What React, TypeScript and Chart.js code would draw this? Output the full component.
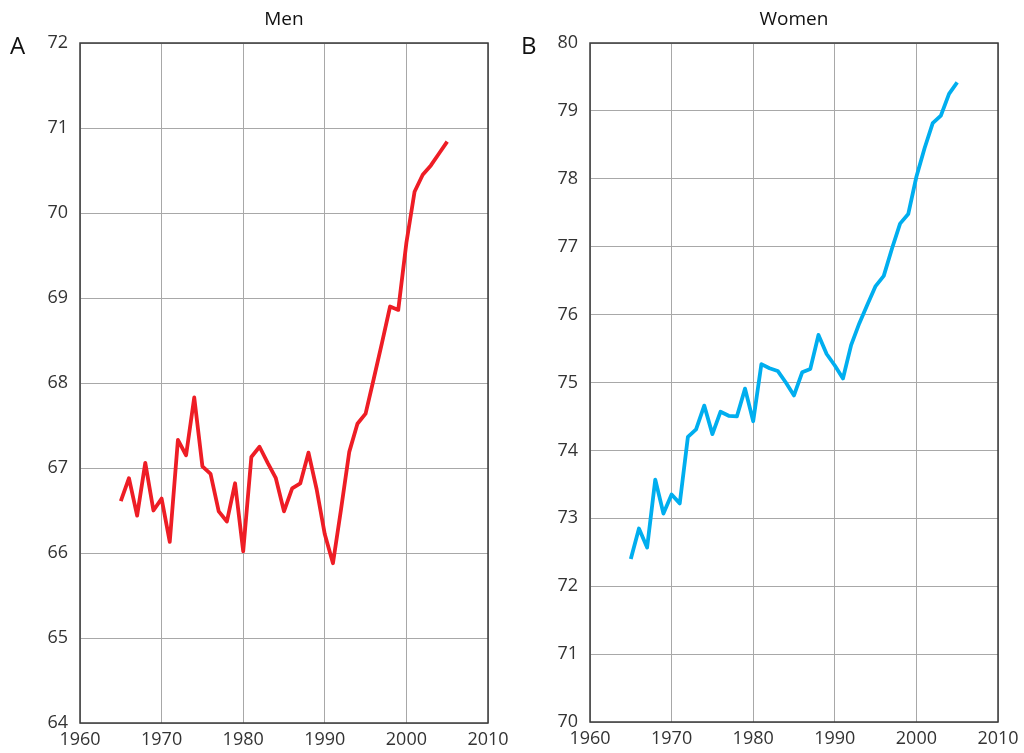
import React, { useEffect, useRef } from "react";
import { Chart, registerables } from "chart.js";

Chart.register(...registerables);

const years: number[] = [
  1965, 1966, 1967, 1968, 1969, 1970, 1971, 1972, 1973, 1974, 1975, 1976, 1977, 1978,
  1979, 1980, 1981, 1982, 1983, 1984, 1985, 1986, 1987, 1988, 1989, 1990, 1991, 1992,
  1993, 1994, 1995, 1996, 1997, 1998, 1999, 2000, 2001, 2002, 2003, 2004, 2005,
];

const menValues: number[] = [
  66.61, 66.88, 66.44, 67.06, 66.5, 66.64, 66.13, 67.33, 67.15, 67.83, 67.02, 66.93, 66.49, 66.37,
  66.82, 66.02, 67.13, 67.25, 67.06, 66.88, 66.49, 66.76, 66.82, 67.18, 66.75, 66.22, 65.88, 66.52,
  67.19, 67.52, 67.64, 68.05, 68.47, 68.9, 68.86, 69.65, 70.25, 70.45, 70.56, 70.7, 70.84,
];

const womenValues: number[] = [
  72.4, 72.85, 72.57, 73.57, 73.07, 73.35, 73.22, 74.2, 74.31, 74.66, 74.24, 74.57, 74.51, 74.5,
  74.91, 74.43, 75.27, 75.21, 75.17, 75.0, 74.81, 75.15, 75.2, 75.7, 75.42, 75.25, 75.06, 75.55,
  75.87, 76.15, 76.42, 76.57, 76.97, 77.34, 77.48, 78.03, 78.45, 78.82, 78.93, 79.25, 79.42,
];

const xTicks: number[] = [1960, 1970, 1980, 1990, 2000, 2010];
const menYRange: number[] = [64, 72];
const womenYRange: number[] = [70, 80];

const FONT = "'Open Sans', 'Noto Sans', sans-serif";

const frame = {
  id: "frame",
  afterDraw(chart: any) {
    const { ctx, chartArea } = chart;
    ctx.save();
    ctx.strokeStyle = "#3a3a3a";
    ctx.lineWidth = 1.5;
    ctx.strokeRect(chartArea.left, chartArea.top, chartArea.right - chartArea.left, chartArea.bottom - chartArea.top);
    ctx.restore();
  },
};

function Panel(props: {
  values: number[];
  yRange: number[];
  color: string;
  label: string;
  axisWidth: number;
  rightPad: number;
  bottomAxis: number;
}) {
  const ref = useRef<HTMLCanvasElement | null>(null);
  useEffect(() => {
    if (!ref.current) return;
    const chart = new Chart(ref.current, {
      type: "line",
      data: {
        datasets: [
          {
            label: props.label,
            data: years.map((y, i) => ({ x: y, y: props.values[i] })),
            borderColor: props.color,
            borderWidth: 3.8,
            borderJoinStyle: "round",
            borderCapStyle: "butt",
            pointRadius: 0,
            tension: 0,
            fill: false,
          },
        ],
      },
      options: {
        animation: false,
        responsive: false,
        maintainAspectRatio: false,
        layout: { padding: { left: 0, right: props.rightPad, top: 43, bottom: 0 } },
        plugins: { legend: { display: false }, tooltip: { enabled: false }, title: { display: false } },
        scales: {
          x: {
            type: "linear",
            min: xTicks[0],
            max: xTicks[xTicks.length - 1],
            afterBuildTicks: (scale: any) => {
              scale.ticks = xTicks.map((v) => ({ value: v }));
            },
            afterFit: (scale: any) => {
              scale.height = props.bottomAxis;
              scale.paddingLeft = 0;
              scale.paddingRight = 0;
            },
            grid: { color: "#a8a8a8", lineWidth: 1, drawTicks: false },
            border: { display: false },
            ticks: {
              color: "#333",
              font: { family: FONT, size: 18 },
              padding: 6,
              maxRotation: 0,
              callback: (v: any) => String(v),
            },
          },
          y: {
            type: "linear",
            min: props.yRange[0],
            max: props.yRange[1],
            afterFit: (scale: any) => {
              scale.width = props.axisWidth;
              scale.paddingTop = 0;
              scale.paddingBottom = 0;
            },
            grid: { color: "#a8a8a8", lineWidth: 1, drawTicks: false },
            border: { display: false },
            ticks: {
              stepSize: 1,
              color: "#333",
              font: { family: FONT, size: 18 },
              padding: 12,
            },
          },
        },
      },
      plugins: [frame],
    });
    return () => chart.destroy();
  }, []);
  return <canvas ref={ref} width={512} height={753} style={{ display: "block", width: 512, height: 753 }} />;
}

export default function App() {
  const textStyle: React.CSSProperties = {
    position: "absolute",
    fontFamily: FONT,
    color: "#111",
    whiteSpace: "nowrap",
  };
  return (
    <div style={{ position: "absolute", left: 0, top: 0, width: 1024, height: 753, background: "#fff", overflow: "hidden" }}>
      <div style={{ position: "absolute", left: 0, top: 0 }}>
        <Panel values={menValues} yRange={menYRange} color="#ee1d25" label="Men" axisWidth={80} rightPad={24} bottomAxis={30} />
      </div>
      <div style={{ position: "absolute", left: 512, top: 0 }}>
        <Panel values={womenValues} yRange={womenYRange} color="#00aeef" label="Women" axisWidth={78} rightPad={26} bottomAxis={31} />
      </div>
      <div style={{ ...textStyle, left: 184, width: 200, top: 5, fontSize: 19, textAlign: "center" }}>Men</div>
      <div style={{ ...textStyle, left: 694, width: 200, top: 5, fontSize: 19, textAlign: "center" }}>Women</div>
      <div style={{ ...textStyle, left: 10, top: 28, fontSize: 24 }}>A</div>
      <div style={{ ...textStyle, left: 521, top: 28, fontSize: 24 }}>B</div>
    </div>
  );
}
